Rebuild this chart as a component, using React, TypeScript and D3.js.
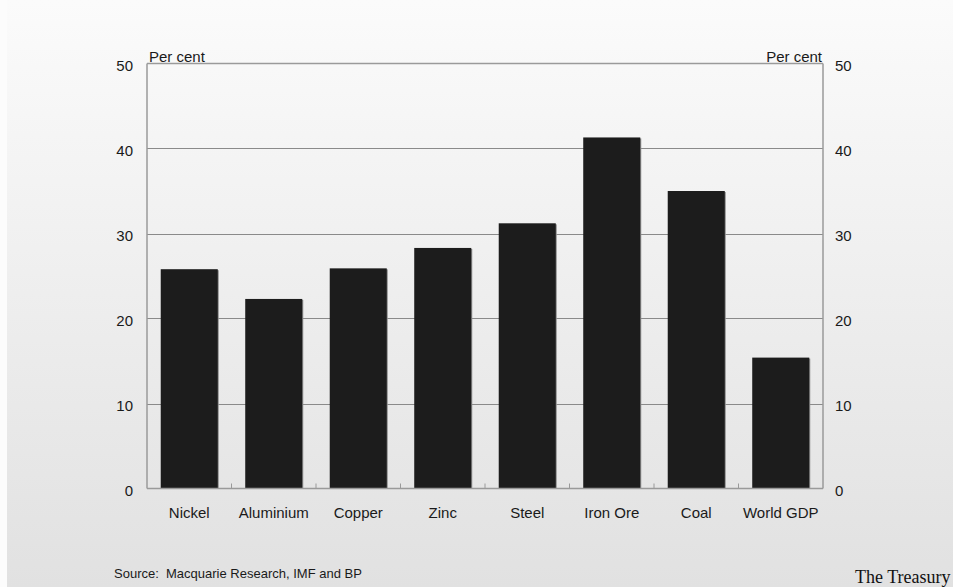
import React from "react";
import * as d3 from "d3";

const categories = ["Nickel", "Aluminium", "Copper", "Zinc", "Steel", "Iron Ore", "Coal", "World GDP"];
const values = [25.8, 22.3, 25.9, 28.3, 31.2, 41.3, 35.0, 15.4];
const yTicks = [0, 10, 20, 30, 40, 50];

const W = 953, H = 587;
const M = { left: 147, right: 823, top: 63.5, bottom: 488.5 };

export default function App() {
  const x = d3.scaleBand<string>().domain(categories).range([M.left, M.right]).paddingInner(0.325).paddingOuter(0.1625);
  const xb = d3.scaleBand<string>().domain(categories).range([M.left, M.right]);
  const y = d3.scaleLinear().domain([0, 50]).range([M.bottom, M.top]);
  const font = "'Liberation Sans', Arial, sans-serif";
  return (
    <svg width={W} height={H} style={{ position: "absolute", left: 0, top: 0 }}>
      <defs>
        <linearGradient id="bg" x1="0" y1="0" x2="0" y2="1">
          <stop offset="0" stopColor="#fbfbfb" />
          <stop offset="1" stopColor="#e1e1e1" />
        </linearGradient>
      </defs>
      <rect x={0} y={0} width={W} height={H} fill="#fcfcfc" />
      <rect x={7} y={0} width={W - 7} height={H} fill="url(#bg)" />
      {yTicks.filter(t => t > 0 && t < 50).map(t => (
        <line key={t} x1={M.left} x2={M.right} y1={Math.round(y(t)) + 0.5} y2={Math.round(y(t)) + 0.5} stroke="#8a8a8a" strokeWidth={1} />
      ))}
      <line x1={M.left} x2={M.right} y1={M.top} y2={M.top} stroke="#9a9a9a" strokeWidth={1.5} />
      {categories.map((c, i) => (
        <g key={c}>
          <rect x={x(c)! + 1} y={y(values[i]) + 1} width={x.bandwidth()} height={M.bottom - y(values[i]) - 1} fill="#8f8f8f" />
          <rect x={x(c)!} y={y(values[i])} width={x.bandwidth()} height={M.bottom - y(values[i])} fill="#1c1c1c" />
        </g>
      ))}
      <line x1={M.left} x2={M.left} y1={M.top} y2={M.bottom} stroke="#9a9a9a" strokeWidth={1.5} />
      <line x1={M.right} x2={M.right} y1={M.top} y2={M.bottom} stroke="#9a9a9a" strokeWidth={1.5} />
      <line x1={M.left} x2={M.right} y1={M.bottom} y2={M.bottom} stroke="#9a9a9a" strokeWidth={1.5} />
      {categories.slice(1).map(c => (
        <line key={c} x1={xb(c)!} x2={xb(c)!} y1={M.bottom} y2={M.bottom - 5} stroke="#9a9a9a" strokeWidth={1} />
      ))}
      {yTicks.map(t => (
        <g key={t} fontFamily={font} fontSize={15} fill="#1a1a1a">
          <text x={M.left - 14} y={y(t) + 7} textAnchor="end">{t}</text>
          <text x={M.right + 12} y={y(t) + 7} textAnchor="start">{t}</text>
        </g>
      ))}
      <text x={M.left + 2} y={61.5} fontFamily={font} fontSize={15} fill="#1a1a1a">Per cent</text>
      <text x={M.right - 1} y={61.5} fontFamily={font} fontSize={15} fill="#1a1a1a" textAnchor="end">Per cent</text>
      {categories.map(c => (
        <text key={c} x={xb(c)! + xb.bandwidth() / 2} y={518} fontFamily={font} fontSize={15} fill="#1a1a1a" textAnchor="middle">{c}</text>
      ))}
      <text x={114} y={578} fontFamily={font} fontSize={13} fill="#1a1a1a" style={{ whiteSpace: "pre" }}>{"Source:  Macquarie Research, IMF and BP"}</text>
      <text x={855} y={582.5} fontFamily="'Liberation Serif', 'Times New Roman', serif" fontSize={18} fill="#111">The Treasury</text>
    </svg>
  );
}
